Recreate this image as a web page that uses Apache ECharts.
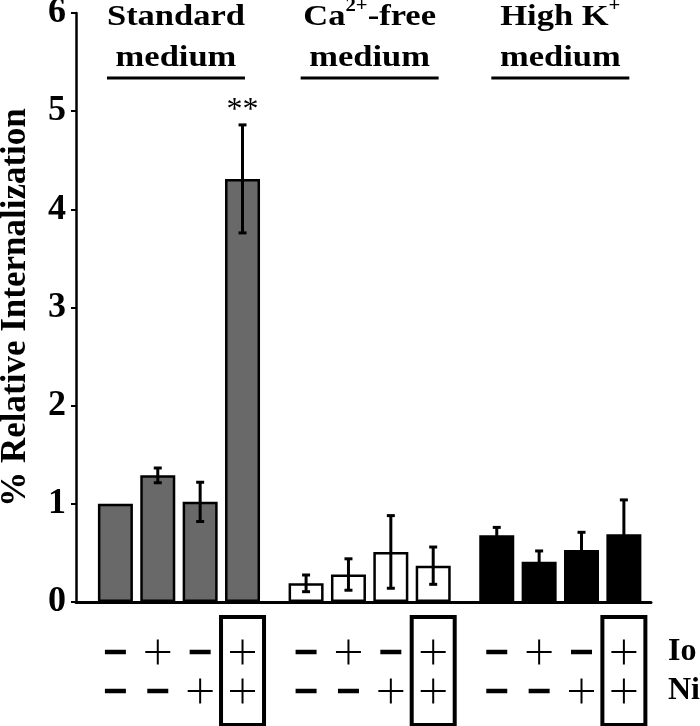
<!DOCTYPE html>
<html>
<head>
<meta charset="utf-8">
<script src="https://cdn.jsdelivr.net/npm/echarts@6/dist/echarts.min.js"></script>
<style>html,body{margin:0;padding:0;background:#fff;}#c{width:700px;height:726px;}</style>
</head>
<body>
<div id="c"></div>
<script>
// ---- data ----
const media = ['Standard', 'Ca2+-free', 'High K+'];
const ioSigns = ['-', '+', '-', '+'];
const niSigns = ['-', '-', '+', '+'];
const boxed = [false, false, false, true];
const standardMean = [1.00, 1.29, 1.02, 4.31];
const standardErr  = [0, 0.075, 0.20, 0.55];
const caFreeMean   = [0.19, 0.28, 0.51, 0.37];
const caFreeErr    = [0.085, 0.16, 0.37, 0.19];
const highKMean    = [0.68, 0.41, 0.53, 0.69];
const highKErr     = [0.08, 0.11, 0.18, 0.35];
const standardSig  = ['', '', '', '**'];
const caFreeSig    = ['', '', '', ''];
const highKSig     = ['', '', '', ''];
const yTicks = [0, 1, 2, 3, 4, 5, 6];
const yTitle = '% Relative Internalization';

// ---- styling / layout ----
const FONT = '"Liberation Serif","Times New Roman",serif';
const fills = ['#696969', '#ffffff', '#000000'];
const means = [standardMean, caFreeMean, highKMean];
const errs = [standardErr, caFreeErr, highKErr];
const sigs = [standardSig, caFreeSig, highKSig];
const GROUP_STEP = 4.5;

const barData = [], errData = [], signData = [], sigList = [];
means.forEach((arr, g) => {
  arr.forEach((v, i) => {
    const pos = g * GROUP_STEP + i;
    barData.push({ value: [pos, v], itemStyle: { color: fills[g] } });
    errData.push([pos, v, errs[g][i]]);
    sigList.push(sigs[g][i]);
    signData.push([pos, 0, i]);
  });
});
const headerData = media.map((m, g) => [g * GROUP_STEP + 1.5, yTicks[yTicks.length - 1], g]);

function signShape(kind, cx, cy) {
  if (kind === '+') {
    return [
      { type: 'line', shape: { x1: cx - 12.5, y1: cy, x2: cx + 12.5, y2: cy }, style: { stroke: '#000', lineWidth: 2 } },
      { type: 'line', shape: { x1: cx, y1: cy - 12.5, x2: cx, y2: cy + 12.5 }, style: { stroke: '#000', lineWidth: 2 } }
    ];
  }
  return [{ type: 'line', shape: { x1: cx - 10.5, y1: cy, x2: cx + 10.5, y2: cy }, style: { stroke: '#000', lineWidth: 4.5 } }];
}

const headerRich = [
  '{b|Standard}',
  '{b|Ca}{s|2+}{b|-free}',
  '{b|High K}{s|+}'
];
const HS = 1.15; // horizontal stretch of header text

const chart = echarts.init(document.getElementById('c'));
chart.setOption({
  animation: false,
  backgroundColor: '#fff',
  grid: { left: 76, right: 49, top: 13, bottom: 124, containLabel: false, outerBoundsMode: 'none' },
  xAxis: {
    type: 'value', min: -0.93, max: 12.64,
    axisLine: { show: true, onZero: false, lineStyle: { color: '#000', width: 3 } },
    axisTick: { show: false }, axisLabel: { show: false }, splitLine: { show: false }
  },
  yAxis: {
    type: 'value', min: yTicks[0], max: yTicks[yTicks.length - 1], interval: 1,
    name: yTitle, nameLocation: 'middle', nameRotate: 90, nameGap: 43,
    nameTextStyle: { fontFamily: FONT, fontWeight: 'bold', fontSize: 35, color: '#000' },
    axisLine: { show: true, onZero: false, lineStyle: { color: '#000', width: 2.5 } },
    axisTick: { show: true, inside: false, length: 5, lineStyle: { color: '#000', width: 2 } },
    axisLabel: { margin: 10, fontFamily: FONT, fontWeight: 'bold', fontSize: 36, color: '#000' },
    splitLine: { show: false }
  },
  series: [
    {
      type: 'bar', data: barData, barWidth: 35,
      itemStyle: { borderColor: '#000', borderWidth: 2.5 }
    },
    {
      type: 'custom', data: errData, z: 5,
      dimensions: ['pos', 'mean', 'err'], encode: { x: 'pos', y: 'mean' },
      renderItem: function (params, api) {
        const x = api.value(0), m = api.value(1), e = api.value(2);
        const children = [];
        const top = api.coord([x, m + e]);
        if (e > 0) {
          const bot = api.coord([x, m - e]);
          const st = { stroke: '#000', lineWidth: 3 };
          children.push({ type: 'line', shape: { x1: top[0], y1: top[1], x2: bot[0], y2: bot[1] }, style: st });
          children.push({ type: 'line', shape: { x1: top[0] - 4, y1: top[1], x2: top[0] + 4, y2: top[1] }, style: st });
          children.push({ type: 'line', shape: { x1: bot[0] - 4, y1: bot[1], x2: bot[0] + 4, y2: bot[1] }, style: st });
        }
        const s = sigList[params.dataIndex];
        if (s) {
          children.push({ type: 'text', x: top[0], y: top[1] - 30,
            style: { text: s, font: '32px ' + FONT, fill: '#000', align: 'center', verticalAlign: 'top' } });
        }
        return { type: 'group', children: children };
      }
    },
    {
      type: 'custom', data: signData, z: 5, clip: false,
      dimensions: ['pos', 'base', 'cond'], encode: { x: 'pos', y: 'base' },
      renderItem: function (params, api) {
        const x = api.value(0), i = api.value(2);
        const c = api.coord([x, 0]);
        let children = [];
        children = children.concat(signShape(ioSigns[i], c[0], c[1] + 50));
        children = children.concat(signShape(niSigns[i], c[0], c[1] + 89));
        if (boxed[i]) {
          children.push({ type: 'rect', shape: { x: c[0] - 21.5, y: c[1] + 15, width: 43, height: 108 },
            style: { fill: 'none', stroke: '#000', lineWidth: 4 } });
        }
        return { type: 'group', children: children };
      }
    },
    {
      type: 'custom', data: headerData, z: 5, clip: false,
      dimensions: ['pos', 'y', 'g'], encode: { x: 'pos', y: 'y' },
      renderItem: function (params, api) {
        const c = api.coord([api.value(0), api.value(1)]);
        const g = api.value(2);
        const cx = c[0] - (g === 0 ? 3 : 0);
        return { type: 'group', children: [
          { type: 'text', x: cx, y: c[1] + 4, scaleX: HS, style: {
            text: headerRich[g], align: 'center', verticalAlign: 'middle',
            rich: {
              b: { fontFamily: FONT, fontWeight: 'bold', fontSize: 30, fill: '#000', lineHeight: 40, verticalAlign: 'middle' },
              s: { fontFamily: FONT, fontWeight: 'bold', fontSize: 18, fill: '#000', lineHeight: 28, verticalAlign: 'top' }
            } } },
          { type: 'text', x: cx, y: c[1] + 45, scaleX: HS, style: {
            text: 'medium', font: 'bold 30px ' + FONT, fill: '#000', align: 'center', verticalAlign: 'middle' } },
          { type: 'line', shape: { x1: cx - 69, y1: c[1] + 65, x2: cx + 69, y2: c[1] + 65 },
            style: { stroke: '#000', lineWidth: 3 } }
        ] };
      }
    }
  ],
  graphic: [
    { type: 'text', left: 668, top: 636, style: { text: 'Io', font: 'bold 32px ' + FONT, fill: '#000' } },
    { type: 'text', left: 668, top: 675, style: { text: 'Ni', font: 'bold 32px ' + FONT, fill: '#000' } }
  ]
});
</script>
</body>
</html>
